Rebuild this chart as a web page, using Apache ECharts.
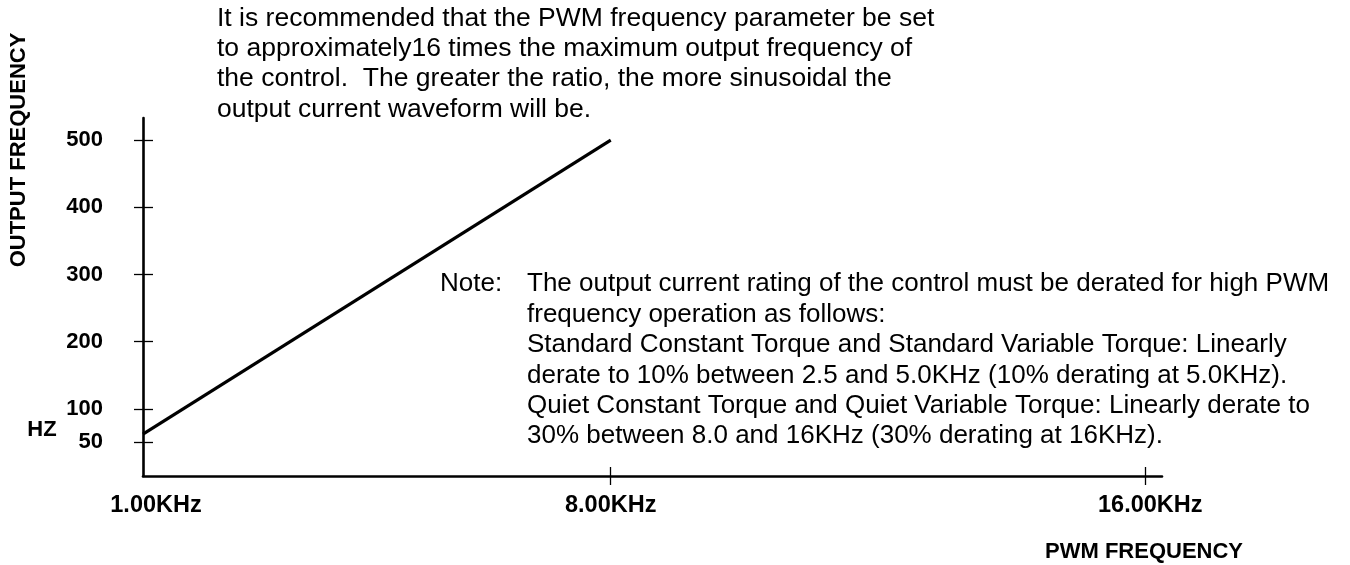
<!DOCTYPE html>
<html>
<head>
<meta charset="utf-8">
<script src="https://cdn.jsdelivr.net/npm/echarts@6/dist/echarts.min.js"></script>
<style>
  html, body { margin: 0; padding: 0; background: #fff; }
  #chart { width: 1350px; height: 565px; }
</style>
</head>
<body>
<div id="chart"></div>
<script>
// PWM frequency (KHz) vs. recommended maximum output frequency (Hz): ratio of 16
const pwmKHz = [1, 8];
const outputHz = [62.5, 500];

// axis ticks and labels
const xLabelValues = [1, 8, 16];
const xTickValues = [8, 16];
const yTickValues = [50, 100, 200, 300, 400, 500];

const titleLines = [
  'It is recommended that the PWM frequency parameter be set',
  'to approximately16 times the maximum output frequency of',
  'the control.  The greater the ratio, the more sinusoidal the',
  'output current waveform will be.'
];
const noteLead = 'Note:';
const noteLines = [
  'The output current rating of the control must be derated for high PWM',
  'frequency operation as follows:',
  'Standard Constant Torque and Standard Variable Torque: Linearly',
  'derate to 10% between 2.5 and 5.0KHz (10% derating at 5.0KHz).',
  'Quiet Constant Torque and Quiet Variable Torque: Linearly derate to',
  '30% between 8.0 and 16KHz (30% derating at 16KHz).'
];

const FONT = '"Liberation Sans", Arial, Helvetica, sans-serif';
const chart = echarts.init(document.getElementById('chart'), null, { renderer: 'canvas' });

const xRange = { min: 1, max: 16.25 };
const yRange = { min: 0, max: 533 };
const xLabelFont = { color: '#000', fontFamily: FONT, fontWeight: 'bold', fontSize: 23.5 };

const option = {
  backgroundColor: '#ffffff',
  animation: false,
  grid: { left: 143, right: 188, top: 118, bottom: 89, containLabel: false },
  xAxis: [
    {
      type: 'value', ...xRange,
      axisLine: { show: true, onZero: false, lineStyle: { color: '#000', width: 2.6 } },
      axisTick: { show: true, customValues: xTickValues, length: 9, lineStyle: { color: '#000', width: 1.3 } },
      axisLabel: {
        show: true, customValues: xLabelValues, margin: 18, ...xLabelFont,
        formatter: v => (v === 1 ? '{first|' : v === 16 ? '{last|' : '{n|') + v.toFixed(2) + 'KHz}',
        rich: {
          first: { padding: [0, 0, 0, 26], ...xLabelFont },
          last: { padding: [0, 0, 0, 10], ...xLabelFont },
          n: { ...xLabelFont }
        }
      },
      splitLine: { show: false }
    },
    {
      // second pass of the same axis: tick marks reaching into the plot
      type: 'value', ...xRange, position: 'bottom',
      axisLine: { show: false },
      axisTick: { show: true, inside: true, customValues: xTickValues, length: 9, lineStyle: { color: '#000', width: 1.3 } },
      axisLabel: { show: false },
      splitLine: { show: false }
    }
  ],
  yAxis: [
    {
      type: 'value', ...yRange,
      axisLine: { show: true, onZero: false, lineStyle: { color: '#000', width: 2.6 } },
      axisTick: { show: true, customValues: yTickValues, length: 9, lineStyle: { color: '#000', width: 1.3 } },
      axisLabel: {
        show: true, customValues: yTickValues, margin: 40,
        color: '#000', fontFamily: FONT, fontWeight: 'bold', fontSize: 22
      },
      splitLine: { show: false }
    },
    {
      type: 'value', ...yRange, position: 'left',
      axisLine: { show: false },
      axisTick: { show: true, inside: true, customValues: yTickValues, length: 10, lineStyle: { color: '#000', width: 1.3 } },
      axisLabel: { show: false },
      splitLine: { show: false }
    }
  ],
  series: [
    {
      type: 'line',
      xAxisIndex: 0, yAxisIndex: 0,
      data: pwmKHz.map((k, i) => [k, outputHz[i]]),
      symbol: 'none',
      lineStyle: { color: '#000', width: 3.2 }
    }
  ],
  graphic: [
    {
      type: 'text', x: 19, y: 150, rotation: Math.PI / 2,
      style: { text: 'OUTPUT FREQUENCY', font: 'bold 22px ' + FONT, fill: '#000', align: 'center', verticalAlign: 'middle' }
    },
    {
      type: 'text', x: 42, y: 430,
      style: { text: 'HZ', font: 'bold 22px ' + FONT, fill: '#000', align: 'center', verticalAlign: 'middle' }
    },
    {
      type: 'text', x: 1144, y: 552,
      style: { text: 'PWM FREQUENCY', font: 'bold 22px ' + FONT, fill: '#000', align: 'center', verticalAlign: 'middle' }
    },
    {
      type: 'text', x: 217, y: 3,
      style: { text: titleLines.join('\n'), font: '26.5px ' + FONT, lineHeight: 30.4, fill: '#000', align: 'left', verticalAlign: 'top' }
    },
    {
      type: 'text', x: 440, y: 269,
      style: { text: noteLead, font: '26px ' + FONT, lineHeight: 30.4, fill: '#000', align: 'left', verticalAlign: 'top' }
    },
    {
      type: 'text', x: 527, y: 269,
      style: { text: noteLines.join('\n'), font: '26px ' + FONT, lineHeight: 30.4, fill: '#000', align: 'left', verticalAlign: 'top' }
    }
  ]
};

chart.setOption(option);
</script>
</body>
</html>
